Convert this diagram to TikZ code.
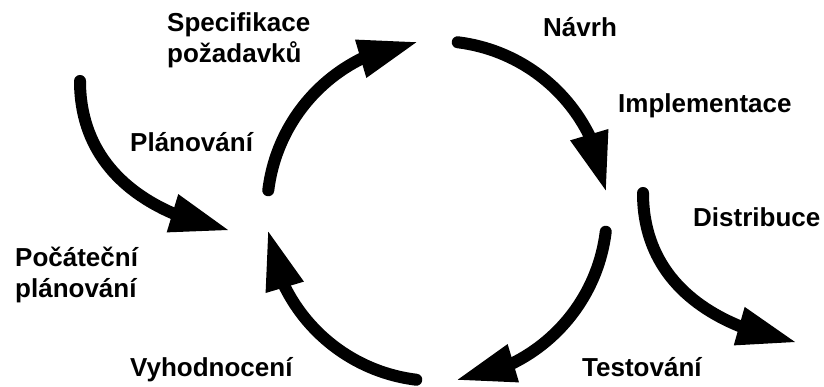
\documentclass[tikz,border=0pt]{standalone}
\usepackage{fontspec}
\setmainfont{Liberation Sans}
\usetikzlibrary{arrows.meta,bending}

\begin{document}
\begin{tikzpicture}[x=1pt,y=1pt,
    flow/.style={line width=12pt, line cap=round, -{Triangle[length=58pt,width=40pt,line width=0pt]}},
    lbl/.style={anchor=base west, inner sep=0pt, align=left, font=\fontsize{26}{31}\selectfont\bfseries}]
    \useasboundingbox (0,0) rectangle (824,387);
    \coordinate (c) at (437,176);
    % cyklus
    \foreach \a in {180,90,0,-90}
        \draw[flow] ([shift={(\a-7:170)}]c) arc[start angle=\a-7, end angle=\a-83, radius=170];
    % vstup a vystup
    \coordinate (in0) at (80,306);
    \coordinate (in1) at (228,157);
    \coordinate (out0) at (643,194);
    \coordinate (out1) at (795,45);
    \draw[flow] (in0) .. controls +(0,-89) and +(-78,15) .. (in1);
    \draw[flow] (out0) .. controls +(0,-89) and +(-82,15) .. (out1);
    % popisky (u dvou radku je base posledni radek)
    \node[lbl] (spec) at (167,324) {Specifikace\\požadavků};
    \node[lbl] (plan) at (130,235) {Plánování};
    \node[lbl] (navrh) at (543,350) {Návrh};
    \node[lbl] (impl) at (618,274) {Implementace};
    \node[lbl] (distr) at (693,160) {Distribuce};
    \node[lbl] (test) at (582,10) {Testování};
    \node[lbl] (vyhod) at (130,10) {Vyhodnocení};
    \node[lbl] (pocat) at (15,89) {Počáteční\\plánování};
\end{tikzpicture}
\end{document}
